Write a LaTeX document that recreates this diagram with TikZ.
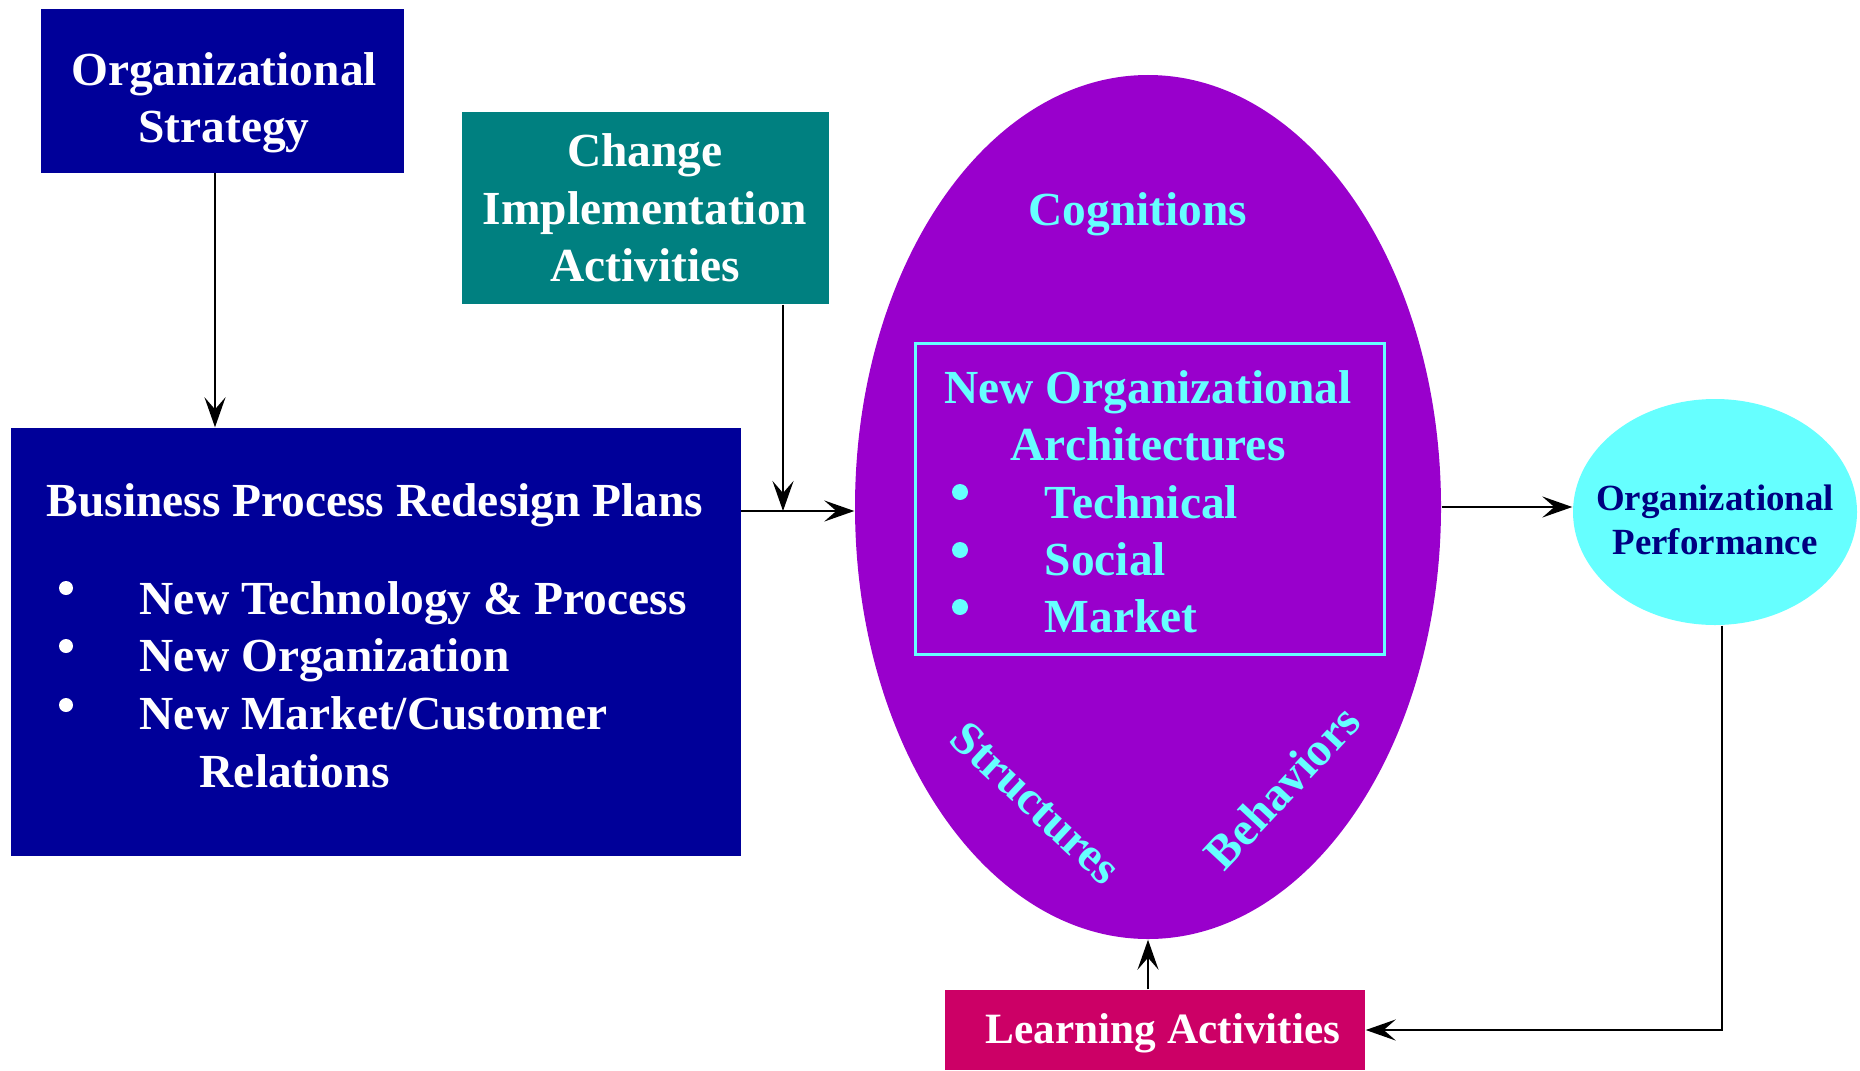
\documentclass[tikz,border=0pt]{standalone}
\usepackage{fontspec}
\setmainfont{Liberation Serif}
\usetikzlibrary{shapes.geometric,arrows.meta}

\definecolor{planblue}{HTML}{000099}
\definecolor{changeteal}{HTML}{008080}
\definecolor{archpurple}{HTML}{9900CC}
\definecolor{archcyan}{HTML}{66FFFF}
\definecolor{learnred}{HTML}{CC0066}
\definecolor{perfnavy}{HTML}{000080}

\begin{document}
\begin{tikzpicture}[
    txt/.style={font=\fontsize{13.5}{16.3}\selectfont\bfseries},
    block/.style={rectangle, inner sep=0pt, txt, text=white, align=center},
    item/.style={txt, inner sep=0pt, anchor=base west},
    link/.style={-{Stealth[length=3mm,width=2.1mm,inset=1.2mm]}, line width=0.8pt}
  ]
  \useasboundingbox (0,0) rectangle (18.6,10.7);

  % left side
  \node[block, fill=planblue, minimum width=3.63cm, minimum height=1.63cm] (strat) at (2.22,9.79) {};
  \node[txt, text=white, align=center] (strattxt) at (2.24,9.67) {Organizational\\Strategy};
  \node[block, fill=changeteal, minimum width=3.67cm, minimum height=1.92cm] (chg) at (6.45,8.62) {Change\\Implementation\\Activities};
  \node[block, fill=planblue, minimum width=7.29cm, minimum height=4.28cm] (bpr) at (3.76,4.28) {};

  \node[txt, text=white, anchor=base] (bprhead) at (3.75,5.54) {Business Process Redesign Plans};
  \node[item, text=white] (newtech) at (1.39,4.56) {New Technology \& Process};
  \node[item, text=white] (neworg) at (1.39,3.99) {New Organization};
  \node[item, text=white] (newmkt) at (1.39,3.41) {New Market/Customer};
  \node[item, text=white] (newrel) at (1.99,2.83) {Relations};
  \foreach \y in {4.82,4.24,3.65}{
    \fill[white] (0.66,\y) circle [radius=0.07];
  }

  % middle
  \node[ellipse, fill=archpurple, inner sep=0pt, minimum width=5.86cm, minimum height=8.64cm] (ell) at (11.48,5.63) {};
  \node[rectangle, draw=archcyan, line width=0.8pt, minimum width=4.69cm, minimum height=3.11cm] (arch) at (11.50,5.71) {};

  \node[txt, text=archcyan] (cogn) at (11.38,8.56) {Cognitions};
  \node[txt, text=archcyan, align=center] (newarch) at (11.48,6.54) {New Organizational\\Architectures};
  \node[item, text=archcyan] (techn) at (10.44,5.52) {Technical};
  \node[item, text=archcyan] (social) at (10.44,4.95) {Social};
  \node[item, text=archcyan] (market) at (10.44,4.38) {Market};
  \foreach \y in {5.78,5.20,4.63}{
    \fill[archcyan] (9.60,\y) circle [radius=0.08];
  }
  \node[txt, text=archcyan, rotate=-43] (struct) at (10.36,2.67) {Structures};
  \node[txt, text=archcyan, rotate=47] (behav) at (12.82,2.83) {Behaviors};

  \node[block, fill=learnred, minimum width=4.20cm, minimum height=0.80cm] (learn) at (11.55,0.40) {};
  \node[text=white, font=\fontsize{12.3}{14.8}\selectfont\bfseries] (learntxt) at (11.63,0.37) {Learning Activities};

  % right side
  \node[ellipse, fill=archcyan, inner sep=0pt, minimum width=2.84cm, minimum height=2.26cm] (perf) at (17.15,5.58) {};
  \node[align=center, inner sep=0pt, text=perfnavy, font=\fontsize{10.5}{12.5}\selectfont\bfseries] (perftxt) at (17.15,5.50) {Organizational\\Performance};

  % arrows
  \coordinate (stratout) at ([xshift=-0.07cm]strat.south);
  \coordinate (chgout) at ([xshift=1.38cm]chg.south);
  \coordinate (perfout) at ([xshift=0.07cm]perf.south);
  \coordinate (ellin) at ([yshift=-0.04cm]ell.west);

  \draw[link] (stratout) -- (stratout |- bpr.north);
  \draw[link] (chgout) -- (chgout |- ellin);
  \draw[link] (ellin -| bpr.east) -- (ellin);
  \draw[link] (ell.east) -- (ell.east -| perf.west);
  \draw[link] (perfout) |- (learn.east);
  \draw[link] (ell.south |- learn.north) -- (ell.south);
\end{tikzpicture}
\end{document}
